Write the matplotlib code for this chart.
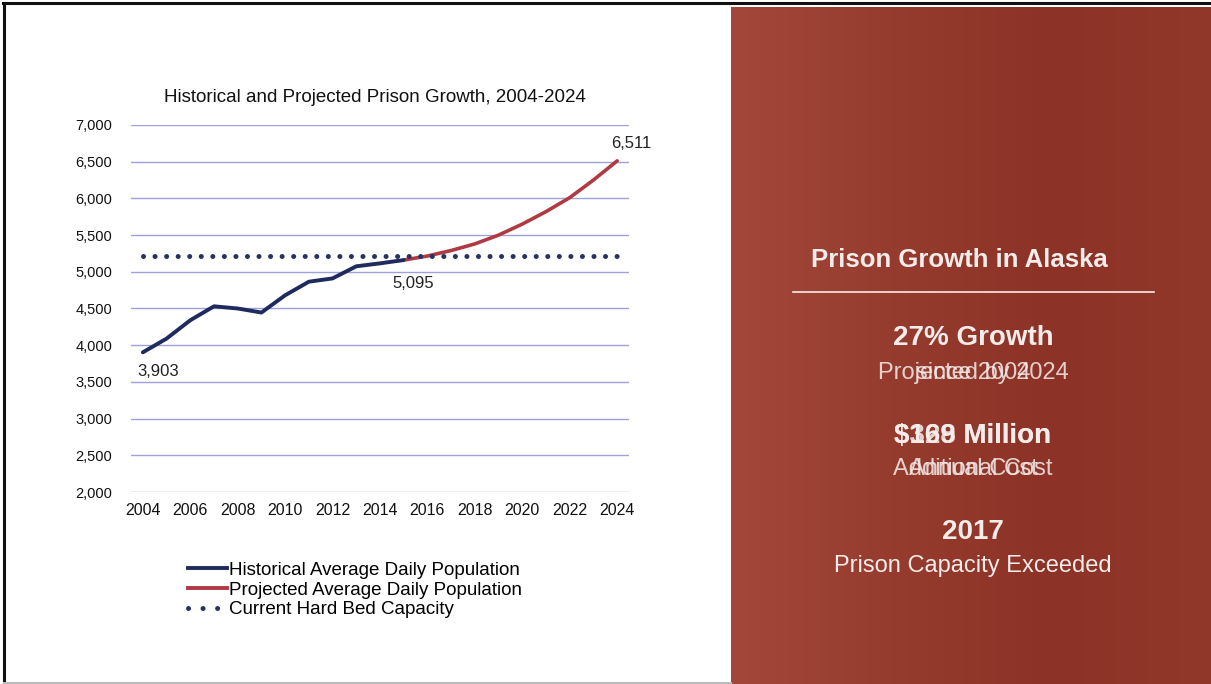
import matplotlib
matplotlib.use("Agg")
import matplotlib.pyplot as plt
import numpy as np
from matplotlib.lines import Line2D
from matplotlib.colors import LinearSegmentedColormap

plt.rcParams['font.family'] = ['Liberation Sans', 'DejaVu Sans']

# ---- data ----
years = list(range(2004, 2025))
hist_years = list(range(2004, 2016))
hist_vals = [3903, 4090, 4340, 4530, 4500, 4445, 4680, 4865, 4910, 5075, 5115, 5160]
proj_years = list(range(2015, 2025))
proj_vals = [5160, 5215, 5290, 5380, 5500, 5650, 5820, 6010, 6250, 6511]
capacity = 5220
yticks = [2000, 2500, 3000, 3500, 4000, 4500, 5000, 5500, 6000, 6500, 7000]
xtick_years = list(range(2004, 2025, 2))

title = "Historical and Projected Prison Growth, 2004-2024"
legend_labels = ["Historical Average Daily Population",
                 "Projected Average Daily Population",
                 "Current Hard Bed Capacity"]
panel_title = "Prison Growth in Alaska"
stats = [("27% Growth", ["Projected by 2024", "since 2004"]),
         ("$169 Million", ["Additional Cost", "Annual Cost"]),
         ("2017", ["Prison Capacity Exceeded"])]
stats_head_overlay = [None, "$328 Million", None]

W, H = 1211, 684
fig = plt.figure(figsize=(W / 100, H / 100), dpi=100)
fig.patch.set_facecolor("white")

def fx(px):
    return px / W

def fy(py):
    return 1 - py / H

# ---- red panel with gradient ----
pax = fig.add_axes([fx(731), 0, fx(W - 731), fy(7)])
grad = np.linspace(0, 1, 256)[None, :]
cmap = LinearSegmentedColormap.from_list("p", ["#a3473a", "#963c2f", "#8c3226", "#92382b"])
pax.imshow(grad, aspect="auto", cmap=cmap, extent=[0, 1, 0, 1])
pax.set_axis_off()

# ---- frame lines ----
fig.add_artist(Line2D([fx(4), fx(4)], [0, fy(3)], color="#111111", lw=2.2))
fig.add_artist(Line2D([fx(3), 1], [fy(3), fy(3)], color="#111111", lw=2.2))
fig.add_artist(Line2D([fx(4), fx(731)], [fy(683), fy(683)], color="#bbbbbb", lw=1.5))

# ---- chart ----
ax = fig.add_axes([fx(131), fy(492), fx(629 - 131), fy(125) - fy(492)])
n = len(years)
xpos = {y: i for i, y in enumerate(years)}
ax.set_xlim(-0.5, n - 0.5)
ax.set_ylim(2000, 7000)
ax.set_yticks(yticks)
ax.set_yticklabels([f"{v:,}" for v in yticks])
ax.set_xticks([xpos[y] for y in xtick_years])
ax.set_xticklabels([str(y) for y in xtick_years])
ax.tick_params(axis="both", length=0, colors="#111111")
ax.tick_params(axis="y", pad=13.5, labelsize=10.5)
ax.tick_params(axis="x", pad=8, labelsize=11.5)
for s in ax.spines.values():
    s.set_visible(False)
ax.grid(axis="y", color="#a0a0dc", lw=1.0)
ax.set_axisbelow(True)

dot_ls = (0, (0.01, 2.3))
proj_line, = ax.plot([xpos[y] for y in proj_years], proj_vals, color="#b03a44", lw=2.6,
                     solid_capstyle="round", zorder=3)
hist_line, = ax.plot([xpos[y] for y in hist_years], hist_vals, color="#1f2b5e", lw=2.8,
                     solid_joinstyle="round", solid_capstyle="round", zorder=4)
cap_line, = ax.plot([xpos[y] for y in years], [capacity] * n, color="#27335e",
                    lw=3.6, ls=dot_ls, dash_capstyle="round", zorder=5)

lbl_kw = dict(fontsize=12, color="#222222")
ax.text(xpos[2004] - 0.25, hist_vals[0] - 160, f"{hist_vals[0]:,}", ha="left", va="top", **lbl_kw)
ax.text(xpos[2015] + 0.4, 5000 - 55, "5,095", ha="center", va="top", **lbl_kw)
ax.text(xpos[2024] + 0.6, proj_vals[-1] + 140, f"{proj_vals[-1]:,}", ha="center", va="bottom",
        **lbl_kw)

fig.text(fx(375), fy(97), title, ha="center", va="center", fontsize=13.5, color="#111111")

# legend
leg_handles = [Line2D([], [], color="#1f2b5e", lw=2.8),
               Line2D([], [], color="#b03a44", lw=2.8),
               Line2D([], [], color="#27335e", lw=3.6, ls=(0, (0.01, 2.9)), dash_capstyle="round")]
fig.legend(leg_handles, legend_labels, loc="upper left", bbox_to_anchor=(fx(180), fy(554)),
           frameon=False, fontsize=13.5, handlelength=2.1, handletextpad=0.1,
           labelspacing=0.15, borderaxespad=0)

# ---- right panel text ----
tc = "#f4ecea"
fig.text(fx(959), fy(260), panel_title, ha="center", va="center", fontsize=18.5,
         fontweight="bold", color=tc)
fig.add_artist(Line2D([fx(793), fx(1154)], [fy(292), fy(292)], color=tc, lw=1.2))

head_y = [338, 436, 532]
sub_y = [373, 469, 566]
for i, (head, subs) in enumerate(stats):
    fig.text(fx(973), fy(head_y[i]), head, ha="center", va="center", fontsize=20,
             fontweight="bold", color=tc)
    if stats_head_overlay[i]:
        fig.text(fx(973), fy(head_y[i]), stats_head_overlay[i], ha="center", va="center",
                 fontsize=20, fontweight="bold", color=tc, alpha=0.85)
    for s in subs:
        fig.text(fx(973), fy(sub_y[i]), s, ha="center", va="center", fontsize=17,
                 color=tc, alpha=0.85 if len(subs) > 1 else 1)

fig.savefig("out.png", dpi=100, facecolor=fig.get_facecolor())
